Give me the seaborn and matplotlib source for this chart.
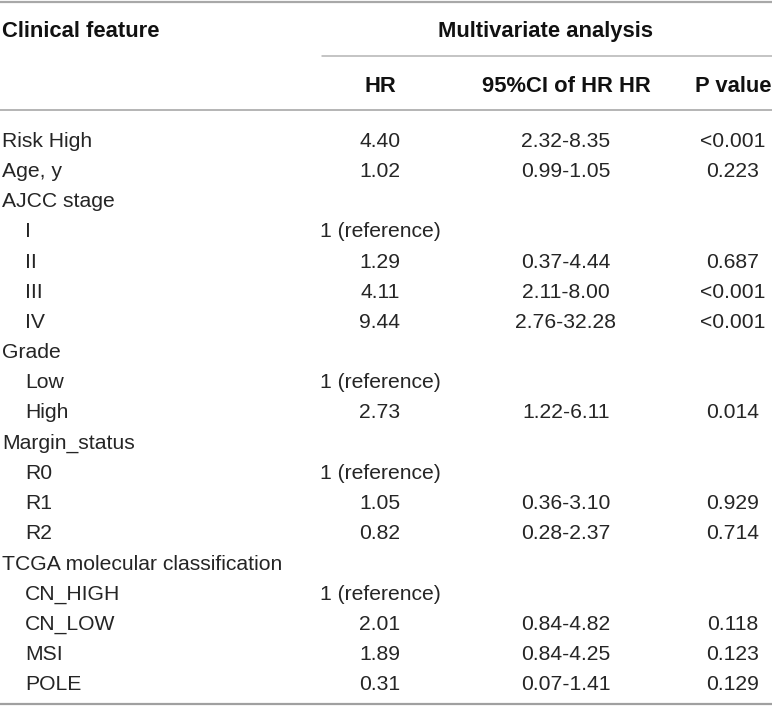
import seaborn as sns
import matplotlib.pyplot as plt

# table content
features = ["Risk High", "Age, y", "AJCC stage", "I", "II", "III", "IV",
            "Grade", "Low", "High", "Margin_status", "R0", "R1", "R2",
            "TCGA molecular classification", "CN_HIGH", "CN_LOW", "MSI", "POLE"]
indented = [False, False, False, True, True, True, True,
            False, True, True, False, True, True, True,
            False, True, True, True, True]
hr = ["4.40", "1.02", "", "1 (reference)", "1.29", "4.11", "9.44",
      "", "1 (reference)", "2.73", "", "1 (reference)", "1.05", "0.82",
      "", "1 (reference)", "2.01", "1.89", "0.31"]
ci = ["2.32-8.35", "0.99-1.05", "", "", "0.37-4.44", "2.11-8.00", "2.76-32.28",
      "", "", "1.22-6.11", "", "", "0.36-3.10", "0.28-2.37",
      "", "", "0.84-4.82", "0.84-4.25", "0.07-1.41"]
pval = ["<0.001", "0.223", "", "", "0.687", "<0.001", "<0.001",
        "", "", "0.014", "", "", "0.929", "0.714",
        "", "", "0.118", "0.123", "0.129"]
col_headers = ["HR", "95%CI of HR HR", "P value"]


def draw_table():
    sns.set_theme(style="white")
    plt.rcParams['font.family'] = ['Liberation Sans', 'DejaVu Sans']

    fig = plt.figure(figsize=(7.72, 7.06), dpi=100)
    ax = fig.add_axes([0, 0, 1, 1])
    ax.set_xlim(0, 772)
    ax.set_ylim(706, 0)
    ax.axis("off")

    size = 15.2
    hsize = 15.8
    body = "#252525"
    col_x = [380, 566, 733]

    # rules
    ax.plot([0, 772], [1.5, 1.5], color="#a8a8a8", lw=1.6)
    ax.plot([322, 772], [56, 56], color="#b4b4b4", lw=1.1)
    ax.plot([0, 772], [110, 110], color="#a0a0a0", lw=1.1)
    ax.plot([0, 772], [703.5, 703.5], color="#a0a0a0", lw=1.6)

    # header
    ax.text(2, 29 + 8, "Clinical feature", fontsize=hsize, fontweight="bold",
            color="#111111", ha="left", va="baseline")
    ax.text(546, 29 + 8, "Multivariate analysis", fontsize=hsize, fontweight="bold",
            color="#111111", ha="center", va="baseline")
    for x, h in zip(col_x, col_headers):
        ax.text(x, 84 + 8, h, fontsize=hsize, fontweight="bold",
                color="#111111", ha="center", va="baseline")

    # body rows
    for i, name in enumerate(features):
        y = 139 + 30.2 * i + 7.7
        ax.text(25 if indented[i] else 2, y, name, fontsize=size, color=body,
                ha="left", va="baseline")
        for x, val in zip(col_x, [hr[i], ci[i], pval[i]]):
            ax.text(x, y, val, fontsize=size, color=body, ha="center", va="baseline")

    fig.savefig("out.png", dpi=100, facecolor="white")


if __name__ == "__main__":
    draw_table()
